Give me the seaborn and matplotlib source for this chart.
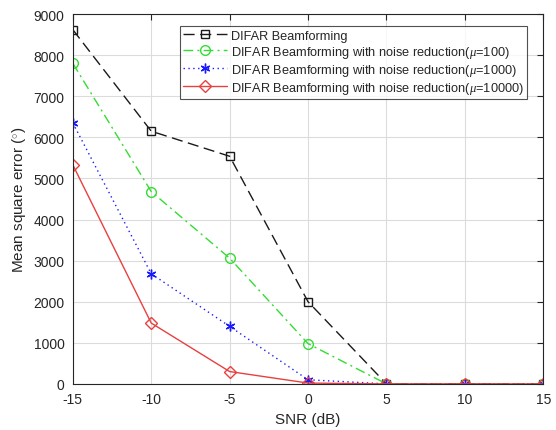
import matplotlib
matplotlib.use("Agg")
import matplotlib.pyplot as plt
import seaborn as sns
import pandas as pd

snr = [-15, -10, -5, 0, 5, 10, 15]
mse_plain = [8620, 6150, 5540, 2000, 0, 0, 0]
mse_mu100 = [7800, 4680, 3060, 980, 0, 0, 0]
mse_mu1000 = [6350, 2680, 1400, 100, 0, 0, 0]
mse_mu10000 = [5330, 1480, 300, 20, 0, 0, 0]

labels = [
	"DIFAR Beamforming",
	r"DIFAR Beamforming with noise reduction($\mu$=100)",
	r"DIFAR Beamforming with noise reduction($\mu$=1000)",
	r"DIFAR Beamforming with noise reduction($\mu$=10000)",
]


def main():
	sns.set_style("white")
	plt.rcParams["font.family"] = ["Liberation Sans", "DejaVu Sans"]
	plt.rcParams["mathtext.fontset"] = "custom"
	plt.rcParams["mathtext.it"] = "Liberation Serif:italic"
	plt.rcParams["mathtext.rm"] = "Liberation Sans"

	fig = plt.figure(figsize=(5.56, 4.31), dpi=100)
	ax = fig.add_axes([0.131, 0.107, 0.846, 0.858])

	series = [mse_plain, mse_mu100, mse_mu1000, mse_mu10000]
	styles = [
		dict(color="#1a1a1a", linestyle=(0, (8, 4)), marker="s", markersize=6),
		dict(color="#33dd33", linestyle=(0, (7, 3, 1.5, 3)), marker="o", markersize=7),
		dict(color="#1a1aff", linestyle=(0, (1, 2.5)), marker=(6, 2, 0), markersize=7),
		dict(color="#e84040", linestyle="-", marker="D", markersize=6),
	]
	for vals, lab, st in zip(series, labels, styles):
		df = pd.DataFrame({"snr": snr, "mse": vals})
		sns.lineplot(
			data=df, x="snr", y="mse", ax=ax, label=lab,
			linewidth=1.0, markerfacecolor="none", markeredgecolor=st["color"],
			markeredgewidth=1.0, **st
		)

	ax.set_xlim(-15, 15)
	ax.set_ylim(0, 9000)
	ax.set_xticks(snr)
	ax.set_xticklabels([str(v) for v in snr])
	ax.set_yticks(range(0, 9001, 1000))
	ax.grid(True, color="#dcdcdc", linewidth=0.8)
	ax.tick_params(direction="in", length=4, labelsize=10, colors="#262626",
		top=True, right=True, labeltop=False, labelright=False)
	ax.tick_params(axis="x", pad=6)
	ax.tick_params(axis="y", pad=6)
	for sp in ax.spines.values():
		sp.set_color("#262626")
		sp.set_linewidth(0.8)
	ax.set_xlabel("SNR (dB)", fontsize=11, color="#262626")
	ax.set_ylabel("Mean square error ($^{\\circ}$)", fontsize=11, color="#262626")

	leg = ax.legend(loc="upper right", bbox_to_anchor=(0.98, 0.985), fontsize=9.2,
		frameon=True, fancybox=False, edgecolor="#262626", handlelength=3.4,
		borderpad=0.3, labelspacing=0.15, handletextpad=0.3)
	leg.get_frame().set_linewidth(0.8)

	fig.savefig("out.png", dpi=100)
	plt.close(fig)


if __name__ == "__main__":
	main()
